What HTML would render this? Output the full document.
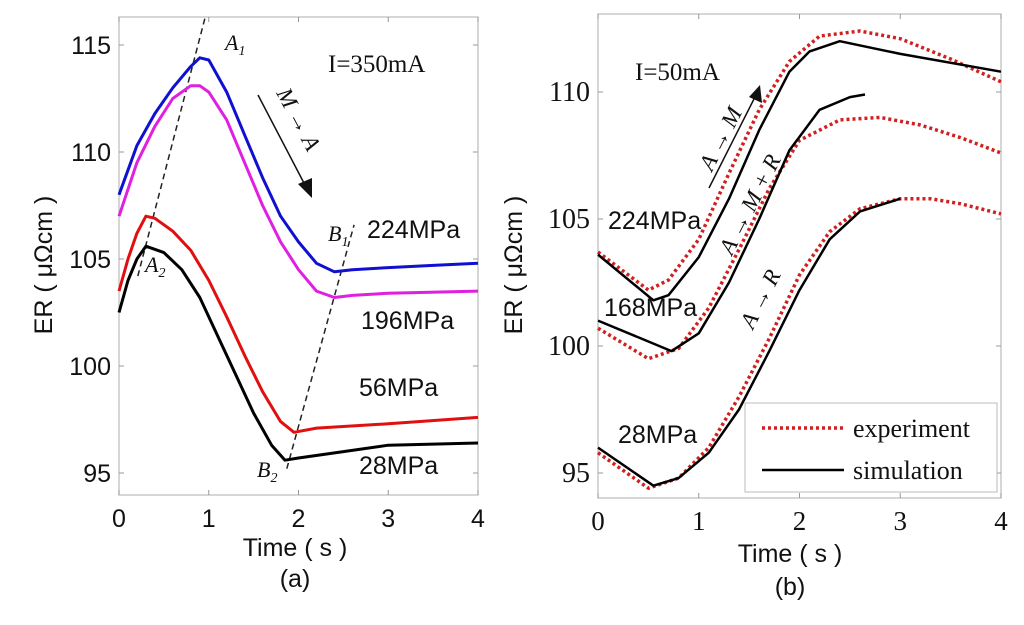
<!DOCTYPE html>
<html><head><meta charset="utf-8"><style>
body{margin:0;background:#fff}
svg{display:block}
text{font-family:"Liberation Sans",sans-serif;fill:#111}
.serif{font-family:"Liberation Serif",serif}
</style></head><body>
<svg id="s" width="1024" height="625" viewBox="0 0 1024 625"></svg>
<script>
const xTicks=[0,1,2,3,4];
const yTicksA=[95,100,105,110,115];
const yTicksB=[95,100,105,110];
const tA224=[0,0.2,0.4,0.6,0.8,0.9,1.0,1.2,1.4,1.6,1.8,2.0,2.2,2.4,2.6,3,3.5,4];
const vA224=[108,110.3,111.8,113,114,114.4,114.3,112.8,110.8,108.8,107,105.8,104.8,104.4,104.5,104.6,104.7,104.8];
const tA196=[0,0.2,0.4,0.6,0.8,0.9,1.0,1.2,1.4,1.6,1.8,2.0,2.2,2.4,2.6,3,4];
const vA196=[107,109.5,111.2,112.5,113.1,113.1,112.8,111.5,109.5,107.5,105.8,104.5,103.5,103.2,103.3,103.4,103.5];
const tA56=[0,0.1,0.2,0.3,0.4,0.6,0.8,1.0,1.2,1.4,1.6,1.8,1.95,2.2,3,4];
const vA56=[103.5,105,106.2,107,106.9,106.3,105.4,104,102.3,100.5,98.8,97.4,96.9,97.1,97.3,97.6];
const tA28=[0,0.1,0.2,0.3,0.5,0.7,0.9,1.1,1.3,1.5,1.7,1.85,2.0,2.5,3,4];
const vA28=[102.5,104,105,105.6,105.3,104.5,103.2,101.4,99.6,97.8,96.3,95.6,95.7,96,96.3,96.4];
const tDashA=[0.21,0.96], vDashA=[104.2,116.3];
const tDashB=[1.87,2.62], vDashB=[95.2,106.6];

const tB224s=[0,0.55,0.7,1.0,1.3,1.6,1.9,2.1,2.4,3,4];
const vB224s=[103.6,101.8,102,103.5,105.8,108.5,110.8,111.6,112,111.5,110.8];
const tB224e=[0,0.5,0.7,1.0,1.3,1.6,1.9,2.2,2.6,3,3.5,4];
const vB224e=[103.7,102.2,102.6,104.2,106.8,109.3,111.2,112.2,112.4,112.1,111.3,110.4];
const tB168s=[0,0.73,1.0,1.3,1.6,1.9,2.2,2.5,2.65];
const vB168s=[101,99.8,100.5,102.5,105,107.7,109.3,109.8,109.9];
const tB168e=[0,0.5,0.8,1.1,1.4,1.7,2.0,2.4,2.8,3.2,3.6,4];
const vB168e=[100.7,99.5,99.9,101.5,103.8,106.2,108.1,108.9,109,108.7,108.2,107.6];
const tB28s=[0,0.55,0.8,1.1,1.4,1.7,2.0,2.3,2.6,3.0];
const vB28s=[96,94.5,94.8,95.8,97.5,99.8,102.2,104.2,105.3,105.8];
const tB28e=[0,0.5,0.8,1.1,1.4,1.7,2.0,2.3,2.6,3.0,3.3,3.6,4];
const vB28e=[95.8,94.4,94.8,96,98,100.3,102.8,104.5,105.4,105.8,105.8,105.6,105.2];

const S=document.getElementById('s');const NS='http://www.w3.org/2000/svg';
function el(t,a,txt){const e=document.createElementNS(NS,t);for(const k in a)e.setAttribute(k,a[k]);if(txt!==undefined)e.textContent=txt;S.appendChild(e);return e;}
const A={x0:119,x1:478,y0:17,y1:495,xs:t=>119+t*89.75,ys:v=>473-(v-95)*21.4};
const B={x0:598,x1:1001,y0:14,y1:498,xs:t=>598+t*100.75,ys:v=>473-(v-95)*25.4};
function axes(P,yt,serif,nm){
 const r=el('rect',{x:P.x0,y:P.y0,width:P.x1-P.x0,height:P.y1-P.y0,fill:'none',stroke:'#bbb','stroke-width':1.2});
 
 xTicks.forEach(t=>{const x=P.xs(t);el('line',{x1:x,x2:x,y1:P.y1,y2:P.y1-5,stroke:'#999'});el('line',{x1:x,x2:x,y1:P.y0,y2:P.y0+5,stroke:'#999'});
  const l=el('text',{x:x,y:P.y1+32,'text-anchor':'middle','font-size':serif?27:25,class:serif?'serif':''},t);
  });
 yt.forEach(v=>{const y=P.ys(v);el('line',{x1:P.x0,x2:P.x0+5,y1:y,y2:y,stroke:'#999'});el('line',{x1:P.x1,x2:P.x1-5,y1:y,y2:y,stroke:'#999'});
  const l=el('text',{x:P.x0-8,y:y+9,'text-anchor':'end','font-size':serif?28:25,class:serif?'serif':''},v);
  });
}
function line(P,ts,vs,c,w,dash,nm){
 const d=ts.map((t,i)=>(i?'L':'M')+P.xs(t).toFixed(1)+','+P.ys(vs[i]).toFixed(1)).join('');
 const p=el('path',{d:d,fill:'none',stroke:c,'stroke-width':w,'stroke-dasharray':dash||'none','stroke-linejoin':'round'});
 
}
axes(A,yTicksA,false,'left');axes(B,yTicksB,true,'right');
line(A,tDashA,vDashA,'#222',1.5,'6,4','dashed-line-a');
line(A,tDashB,vDashB,'#222',1.5,'6,4','dashed-line-b');
line(A,tA224,vA224,'#1010d0',3,null,'line-224mpa');
line(A,tA196,vA196,'#e020e0',3,null,'line-196mpa');
line(A,tA56,vA56,'#e01010',3,null,'line-56mpa');
line(A,tA28,vA28,'#000',3,null,'line-28mpa');
line(B,tB224e,vB224e,'#d02020',3.5,'3,3','exp-224mpa');
line(B,tB168e,vB168e,'#d02020',3.5,'3,3','exp-168mpa');
line(B,tB28e,vB28e,'#d02020',3.5,'3,3','exp-28mpa');
line(B,tB224s,vB224s,'#000',2.5,null,'sim-224mpa');
line(B,tB168s,vB168s,'#000',2.5,null,'sim-168mpa');
line(B,tB28s,vB28s,'#000',2.5,null,'sim-28mpa');
</script>
<svg width="1024" height="625" style="position:absolute;left:0;top:0">
<g>
<text x="328" y="72" font-size="25" class="serif">I=350mA</text>
<text x="225" y="50" font-size="22" class="serif" font-style="italic">A<tspan font-size="14" dy="5">1</tspan></text>
<text x="145" y="272" font-size="22" class="serif" font-style="italic">A<tspan font-size="14" dy="5">2</tspan></text>
<text x="328" y="241" font-size="22" class="serif" font-style="italic">B<tspan font-size="14" dy="5">1</tspan></text>
<text x="257" y="477" font-size="22" class="serif" font-style="italic">B<tspan font-size="14" dy="5">2</tspan></text>
<text x="367" y="238" font-size="25">224MPa</text>
<text x="361" y="329" font-size="25">196MPa</text>
<text x="359" y="396" font-size="25">56MPa</text>
<text x="359" y="474" font-size="25">28MPa</text>
<line x1="258" y1="95" x2="305" y2="185" stroke="#111" stroke-width="1.5"/>
<polygon points="298,184 312,198 312,178" fill="#111"/>
<text transform="translate(276,93) rotate(62)" font-size="23" class="serif" font-style="italic">M → A</text>
<text transform="translate(52,265) rotate(-90)" text-anchor="middle" font-size="25">ER ( μΩcm )</text>
<text x="295" y="556" text-anchor="middle" font-size="25">Time ( s )</text>
<text x="295" y="587" text-anchor="middle" font-size="25">(a)</text>
</g>
<g>
<text x="635" y="80" font-size="25" class="serif">I=50mA</text>
<text x="608" y="229" font-size="25">224MPa</text>
<text x="604" y="316" font-size="25">168MPa</text>
<text x="618" y="443" font-size="25">28MPa</text>
<line x1="709" y1="188" x2="755" y2="97" stroke="#111" stroke-width="1.5"/>
<polygon points="749,97 760,85 762,103" fill="#111"/>
<text transform="translate(712,172) rotate(-63)" font-size="23" class="serif" font-style="italic">A → M</text>
<text transform="translate(732,256) rotate(-63)" font-size="23" class="serif" font-style="italic">A → M + R</text>
<text transform="translate(753,330) rotate(-63)" font-size="23" class="serif" font-style="italic">A → R</text>
<text transform="translate(522,265) rotate(-90)" text-anchor="middle" font-size="25">ER ( μΩcm )</text>
<text x="790" y="562" text-anchor="middle" font-size="25">Time ( s )</text>
<text x="790" y="595" text-anchor="middle" font-size="25">(b)</text>
<g>
<rect x="745" y="403" width="252" height="89" fill="#fff" stroke="#bbb"/>
<line x1="762" y1="428" x2="844" y2="428" stroke="#d02020" stroke-width="3.5" stroke-dasharray="3,3"/>
<text x="853" y="437" font-size="26" class="serif">experiment</text>
<line x1="762" y1="470" x2="844" y2="470" stroke="#000" stroke-width="2.5"/>
<text x="853" y="479" font-size="26" class="serif">simulation</text>
</g>
</g>
</svg>
</body></html>
